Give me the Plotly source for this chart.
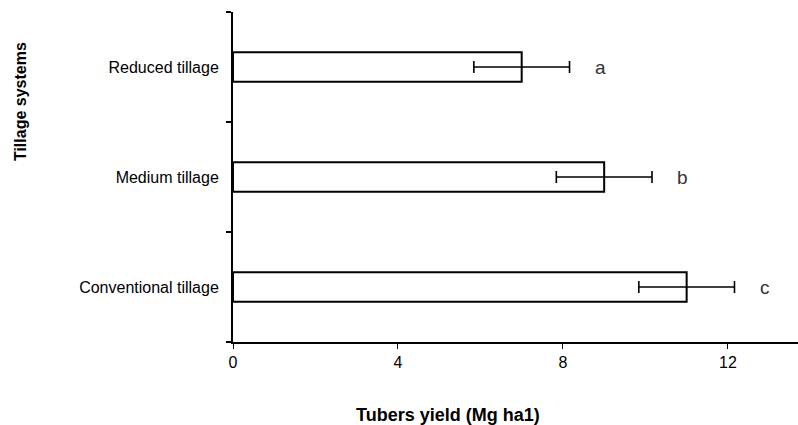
import plotly.graph_objects as go

categories = ["Conventional tillage", "Medium tillage", "Reduced tillage"]
yield_means = [11.0, 9.0, 7.0]
yield_errors = [1.16, 1.16, 1.16]
letters = ["c", "b", "a"]
x_ticks = [0, 4, 8, 12]

pos = list(range(len(categories)))

fig = go.Figure()
fig.add_trace(go.Bar(
    x=yield_means, y=pos, orientation="h", width=0.27,
    marker=dict(color="white", line=dict(color="black", width=2)),
    error_x=dict(type="data", array=yield_errors, color="black", thickness=1.6, width=6),
    showlegend=False,
))

for p, m, e, l in zip(pos, yield_means, yield_errors, letters):
    fig.add_annotation(x=m + e + 0.75, y=p, text=l, showarrow=False,
                       xanchor="center", yanchor="middle",
                       font=dict(family="Liberation Sans, Arial", size=19, color="#333333"))

fig.add_annotation(xref="paper", yref="paper", x=(20 - 233) / 565, y=0.727, text="<b>Tillage systems</b>",
                   textangle=-90, showarrow=False, xanchor="center", yanchor="middle",
                   font=dict(family="Liberation Sans, Arial", size=16, color="black"))
fig.add_annotation(xref="paper", yref="paper", x=(448 - 233) / 565, y=-0.221, text="<b>Tubers yield (Mg ha1)</b>",
                   showarrow=False, xanchor="center", yanchor="middle",
                   font=dict(family="Liberation Sans, Arial", size=18, color="black"))

fig.update_layout(
    width=798, height=425,
    margin=dict(l=233, r=0, t=12, b=83),
    plot_bgcolor="white", paper_bgcolor="white",
    font=dict(family="Liberation Sans, Arial", size=16, color="black"),
    xaxis=dict(range=[0, 13.7], tickvals=x_ticks, ticktext=[str(v) for v in x_ticks],
               showgrid=False, zeroline=False, showline=True, linecolor="black", linewidth=2,
               ticks="outside", ticklen=5, tickwidth=1, tickcolor="black"),
    yaxis=dict(range=[-0.5, 2.5], tickvals=pos, ticktext=categories,
               showgrid=False, zeroline=False, showline=True, linecolor="black", linewidth=2,
               ticks="", ticklabelstandoff=9,
               minor=dict(ticks="outside", tick0=0.5, dtick=1, ticklen=5, tickwidth=2, tickcolor="black", showgrid=False)),
)

fig.write_html("out.html")
